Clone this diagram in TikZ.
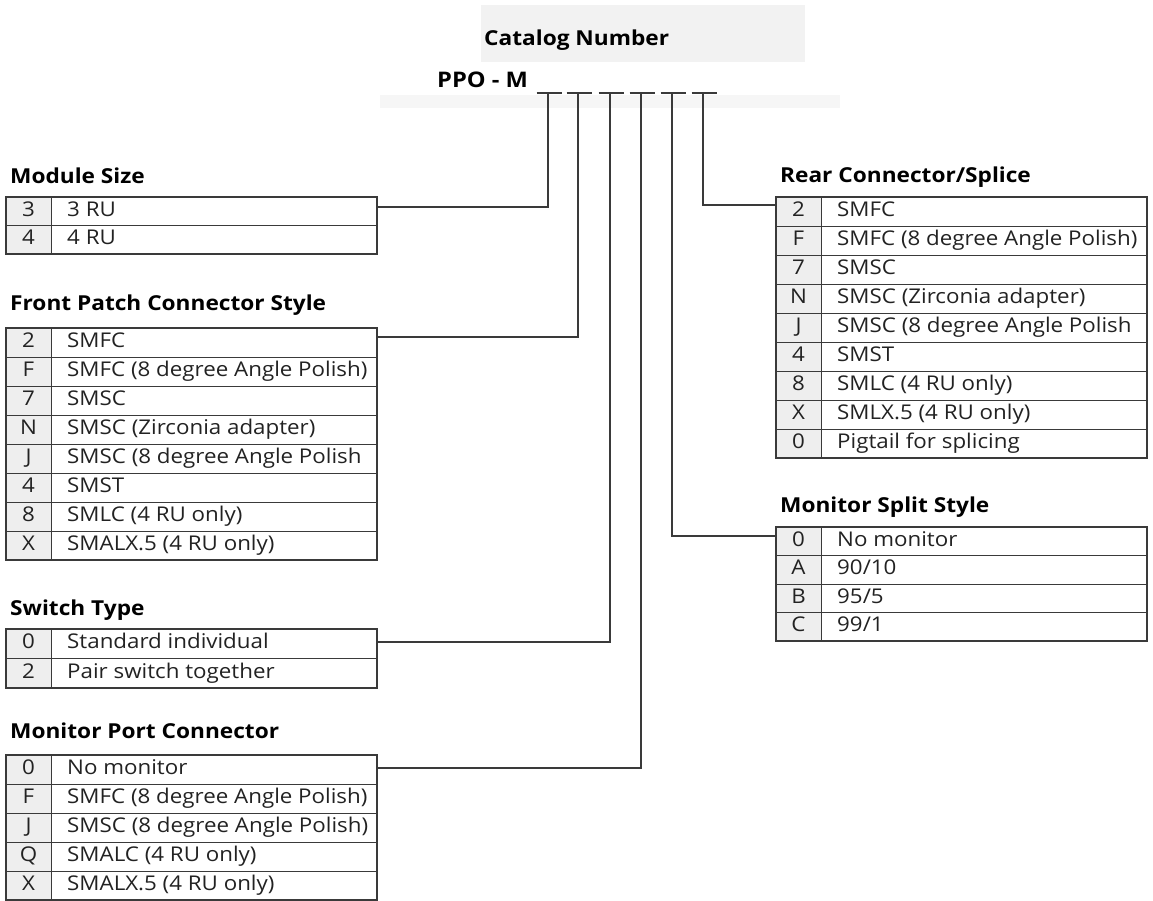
\documentclass[tikz,border=0pt]{standalone}
\usepackage{fontspec}
\setmainfont[FakeStretch=1.1]{Open Sans}
\usetikzlibrary{calc}
\definecolor{ink}{HTML}{222222}
\definecolor{rule}{HTML}{3A3A3A}
\definecolor{keyfill}{HTML}{EEEEEE}
\definecolor{paper}{HTML}{F2F2F2}
\tikzset{
  tbox/.style={draw=rule, line width=1.1pt, minimum width=371pt, inner sep=0pt, outer sep=0pt, anchor=north west},
  rowrule/.style={draw=rule, line width=0.9pt},
  keytxt/.style={font=\fontsize{20.3}{20.3}\selectfont, text=ink, inner sep=0pt, anchor=mid, yshift=-2.5pt},
  valtxt/.style={font=\fontsize{20.3}{20.3}\selectfont, text=ink, inner sep=0pt, anchor=mid west, yshift=-2.5pt},
  ttl/.style={font=\bfseries\fontsize{20.6}{20.6}\selectfont, text=black, anchor=mid west, inner sep=0pt, yshift=-3pt},
  conn/.style={draw=rule, line width=1.1pt},
}
\newcommand{\cattable}[6]{%
  \fill[keyfill] (#2,#3) rectangle ({#2+45},{#3+#4*#5});
  \node[tbox, minimum height={#4*#5}] (#1) at (#2,#3) {};
  \draw[rowrule] ({#2+45},#3) -- ({#2+45},{#3+#4*#5});
  \foreach [count=\i] \k/\t in {#6} {
    \ifnum\i>1 \draw[rowrule] (#2,{#3+(\i-1)*#4}) -- ({#2+371},{#3+(\i-1)*#4}); \fi
    \node[keytxt] (#1-k\i) at ({#2+22.5},{#3+(\i-0.5)*#4}) {\k};
    \node[valtxt] (#1-v\i) at ({#2+61},{#3+(\i-0.5)*#4}) {\t};
  }
}
\begin{document}
\begin{tikzpicture}[x=1pt,y=-1pt]
\useasboundingbox (0,0) rectangle (1153,901);
% faint scanned backgrounds
\fill[paper] (481,5) rectangle (805,62);
\fill[paper!70!white] (380,95) rectangle (840,108);
\node[ttl] (cat) at (484,40) {Catalog Number};
\node[ttl, font=\bfseries\fontsize{21.5}{21.5}\selectfont] (ppo) at (437,82) {PPO - M};
% dash positions
\foreach \n/\xx in {1/548,2/578,3/610,4/641,5/672,6/703} {
  \coordinate (d\n) at (\xx,93);
  \draw[conn] ([xshift=-11.5]d\n) -- ([xshift=13.5]d\n);
}
% titles
\node[ttl] (tms) at (10,178) {Module Size};
\node[ttl] (tfp) at (10,305) {Front Patch Connector Style};
\node[ttl] (tst) at (10,610) {Switch Type};
\node[ttl] (tmp) at (10,733) {Monitor Port Connector};
\node[ttl] (trc) at (780,177) {Rear Connector/Splice};
\node[ttl] (tms2) at (780,507) {Monitor Split Style};
% tables
\cattable{ms}{6}{197}{28.5}{2}{3/3 RU,4/4 RU}
\cattable{fp}{6}{328}{29}{8}{2/SMFC,F/SMFC (8 degree Angle Polish),7/SMSC,N/SMSC (Zirconia adapter),J/SMSC (8 degree Angle Polish,4/SMST,8/SMLC (4 RU only),X/SMALX.5 (4 RU only)}
\cattable{st}{6}{629}{29.5}{2}{0/Standard individual,2/Pair switch together}
\cattable{mp}{6}{755}{29}{5}{0/No monitor,F/SMFC (8 degree Angle Polish),J/SMSC (8 degree Angle Polish),Q/SMALC (4 RU only),X/SMALX.5 (4 RU only)}
\cattable{rc}{776}{197}{29}{9}{2/SMFC,F/SMFC (8 degree Angle Polish),7/SMSC,N/SMSC (Zirconia adapter),J/SMSC (8 degree Angle Polish,4/SMST,8/SMLC (4 RU only),X/SMLX.5 (4 RU only),0/Pigtail for splicing}
\cattable{sp}{776}{527}{28.5}{4}{0/No monitor,A/{90/10},B/{95/5},C/{99/1}}
% connectors
\coordinate (ems) at ($(ms.north east)+(0,10)$);
\coordinate (efp) at ($(fp.north east)+(0,9)$);
\coordinate (est) at ($(st.north east)+(0,13)$);
\coordinate (emp) at ($(mp.north east)+(0,13)$);
\coordinate (esp) at ($(sp.north west)+(0,9)$);
\coordinate (erc) at ($(rc.north west)+(0,8)$);
\draw[conn] (d1) |- (ems);
\draw[conn] (d2) |- (efp);
\draw[conn] (d3) |- (est);
\draw[conn] (d4) |- (emp);
\draw[conn] (d5) |- (esp);
\draw[conn] (d6) |- (erc);
\end{tikzpicture}
\end{document}
